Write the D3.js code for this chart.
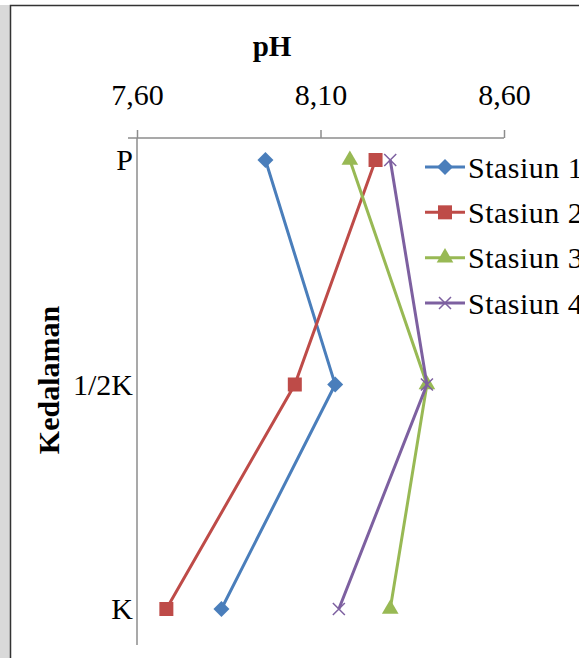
<!DOCTYPE html>
<html>
  <head>
    <meta charset="utf-8">
    <title>pH</title>
    <script type="text/javascript" src="https://d3js.org/d3.v7.min.js"></script>
    <style>
      body { margin: 0; background: #ffffff; }
      text { font-family: "Liberation Serif", "Times New Roman", serif; fill: #000; }
    </style>
  </head>
  <body>
    <script type="text/javascript">
      // data
      var depths = ["P", "1/2K", "K"];
      var stations = ["Stasiun 1", "Stasiun 2", "Stasiun 3", "Stasiun 4"];
      var stasiun1 = [7.95, 8.14, 7.83];
      var stasiun2 = [8.25, 8.03, 7.68];
      var stasiun3 = [8.18, 8.39, 8.29];
      var stasiun4 = [8.29, 8.39, 8.15];
      var phTicks = [7.60, 8.10, 8.60];

      var series = [stasiun1, stasiun2, stasiun3, stasiun4];
      var colors = ["#4a7ebb", "#be4b48", "#98b954", "#7d60a0"];
      var shapes = ["diamond", "square", "triangle", "cross"];

      var width = 579, height = 658;
      var axisTop = 138, axisBottom = 645;

      var svg = d3.select("body").append("svg")
          .attr("width", width)
          .attr("height", height);

      // grey page strip + chart border
      svg.append("rect").attr("x", 0).attr("y", 0).attr("width", 10).attr("height", height).attr("fill", "#d9d9d9");
      svg.append("rect").attr("x", 0).attr("y", 0).attr("width", width).attr("height", 5).attr("fill", "#ffffff");
      svg.append("path")
          .attr("d", "M10.5," + height + "V5.5H" + width)
          .attr("fill", "none")
          .attr("stroke", "#333")
          .attr("stroke-width", 1.5);

      var x = d3.scaleLinear().domain([7.6, 8.6]).range([137, 504]);
      var y = d3.scalePoint().domain(depths).range([160, 609]);

      // top axis
      var xAxis = d3.axisTop(x)
          .tickValues(phTicks)
          .tickSize(8)
          .tickSizeOuter(0)
          .tickPadding(25)
          .tickFormat(function(d) { return d.toFixed(2).replace(".", ","); });

      var gx = svg.append("g")
          .attr("transform", "translate(0," + axisTop + ")")
          .call(xAxis);
      gx.select(".domain").remove();
      gx.selectAll(".tick line").attr("stroke", "#8c8c8c").attr("stroke-width", 1.5);
      gx.selectAll(".tick text").style("font-size", "30px").attr("font-family", null);

      svg.append("line")
          .attr("x1", 128).attr("x2", x(8.6))
          .attr("y1", axisTop).attr("y2", axisTop)
          .attr("stroke", "#8c8c8c").attr("stroke-width", 1.5);

      // left axis
      var yAxis = d3.axisLeft(y).tickSize(0).tickPadding(4);
      var gy = svg.append("g")
          .attr("transform", "translate(" + x(7.6) + ",0)")
          .call(yAxis);
      gy.select(".domain").remove();
      gy.selectAll(".tick text").style("font-size", "30px").attr("font-family", null);

      svg.append("line")
          .attr("x1", x(7.6)).attr("x2", x(7.6))
          .attr("y1", axisTop).attr("y2", axisBottom)
          .attr("stroke", "#8c8c8c").attr("stroke-width", 1.5);

      // titles
      svg.append("text")
          .attr("x", 272).attr("y", 56)
          .attr("text-anchor", "middle")
          .style("font-size", "29px")
          .style("font-weight", "bold")
          .text("pH");

      svg.append("text")
          .attr("transform", "translate(59,380) rotate(-90)")
          .attr("text-anchor", "middle")
          .style("font-size", "30px")
          .style("font-weight", "bold")
          .text("Kedalaman");

      function marker(g, shape, color) {
        if (shape == "diamond") {
          g.append("path").attr("d", "M0,-8L8,0L0,8L-8,0Z").attr("fill", color);
        } else if (shape == "square") {
          g.append("rect").attr("x", -7).attr("y", -7).attr("width", 14).attr("height", 14).attr("fill", color);
        } else if (shape == "triangle") {
          g.append("path").attr("d", d3.symbol().type(d3.symbolTriangle).size(120)()).attr("fill", color);
        } else {
          g.append("path").attr("d", "M-6,-6L6,6M-6,6L6,-6")
              .attr("stroke", color).attr("stroke-width", 1.5).attr("fill", "none");
        }
      }

      var line = d3.line()
          .x(function(d) { return x(d[1]); })
          .y(function(d) { return y(d[0]); });

      series.forEach(function(vals, i) {
        var pts = depths.map(function(dep, j) { return [dep, vals[j]]; });
        svg.append("path")
            .datum(pts)
            .attr("d", line)
            .attr("fill", "none")
            .attr("stroke", colors[i])
            .attr("stroke-width", 3);
        pts.forEach(function(p) {
          var g = svg.append("g").attr("transform", "translate(" + x(p[1]) + "," + y(p[0]) + ")");
          marker(g, shapes[i], colors[i]);
        });
      });

      // legend
      var legY = d3.scalePoint().domain(stations).range([167, 303]);
      stations.forEach(function(name, i) {
        var ly = legY(name);
        svg.append("line")
            .attr("x1", 425).attr("x2", 465)
            .attr("y1", ly).attr("y2", ly)
            .attr("stroke", colors[i]).attr("stroke-width", 3);
        var g = svg.append("g").attr("transform", "translate(445," + ly + ")");
        marker(g, shapes[i], colors[i]);
        svg.append("text")
            .attr("x", 468).attr("y", ly)
            .attr("dy", "0.35em")
            .style("font-size", "30px")
            .style("letter-spacing", "0.5px")
            .text(name);
      });
    </script>
  </body>
</html>
